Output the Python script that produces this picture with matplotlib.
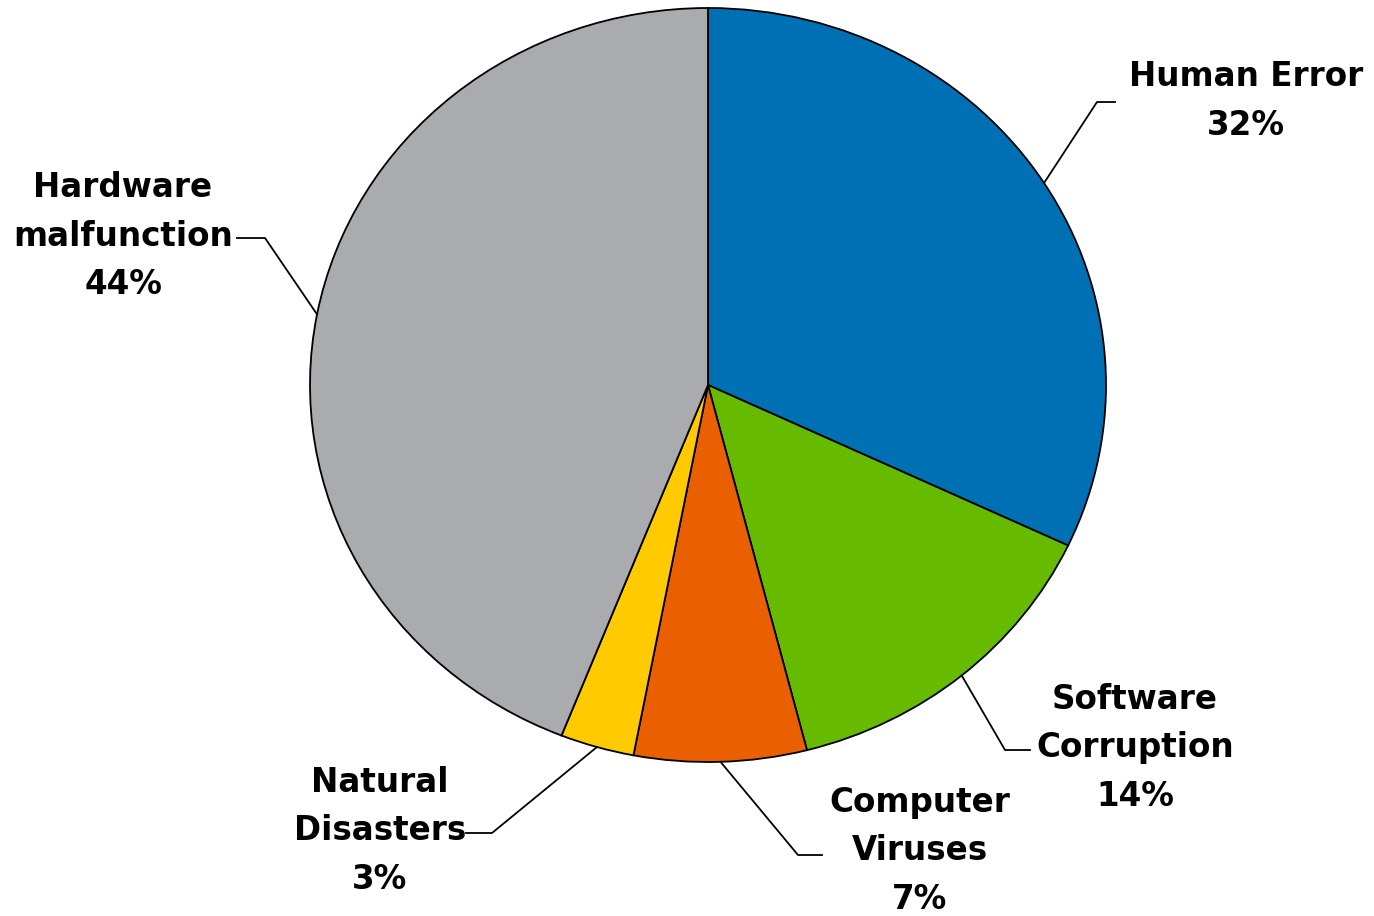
import matplotlib.pyplot as plt
import numpy as np

# data
labels = ['Human Error', 'Software\nCorruption', 'Computer\nViruses', 'Natural\nDisasters', 'Hardware\nmalfunction']
shares = [32, 14, 7, 3, 44]
colors = ['#0070B5', '#66BA00', '#EA6000', '#FFCB00', '#AAABAF']

# layout in pixels (figure 1374x916): pie centre, radii, label spots
W, H = 1374, 916
cx, cy, rx, ry = 708, 385, 398, 377
elbows = [(1097, 102), (1005, 750), (798, 855), (492, 833), (265, 238)]
line_ends = [(1115, 102), (1030, 750), (822, 855), (466, 833), (237, 238)]
text_pos = [(1246, 101), (1135, 748), (920, 851), (380, 831), (123, 236)]


def px(p):
    # pixel -> data units (pie radius = 1 in both directions)
    return ((p[0] - cx) / rx, (cy - p[1]) / ry)


fig = plt.figure(figsize=(13.74, 9.16), dpi=100)
ax = fig.add_axes([0, 0, 1, 1])

wedges, _ = ax.pie(shares, colors=colors, startangle=90, counterclock=False,
                   radius=1, center=(0, 0),
                   wedgeprops=dict(edgecolor='black', linewidth=1.3))
ax.set_aspect('auto')
ax.set_xlim(-cx / rx, (W - cx) / rx)
ax.set_ylim(-(H - cy) / ry, cy / ry)
ax.axis('off')

for w, lab, val, e, le, tp in zip(wedges, labels, shares, elbows, line_ends, text_pos):
    ang = np.deg2rad((w.theta1 + w.theta2) / 2)
    x0, y0 = np.cos(ang), np.sin(ang)
    ex, ey = px(e)
    lx, ly = px(le)
    ax.plot([x0, ex, lx], [y0, ey, ly], color='black', lw=1.3)
    tx, ty = px(tp)
    ax.text(tx, ty, f'{lab}\n{val}%', ha='center', va='center',
            fontsize=23.5, fontweight='bold', family='DejaVu Sans',
            linespacing=1.6)

fig.savefig('out.png', dpi=100)
